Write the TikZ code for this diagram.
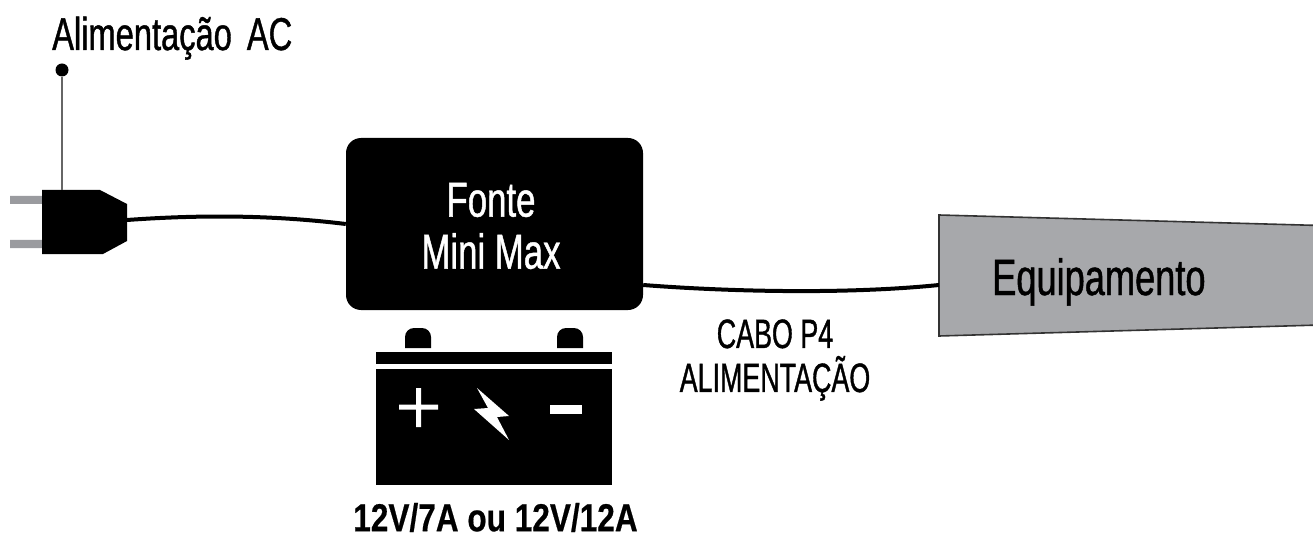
\documentclass[tikz,border=0pt]{standalone}
\usepackage{fontspec}
\setmainfont[FakeStretch=0.71,FakeBold=0.9]{Liberation Sans}
\newfontfamily\fontecabo[FakeStretch=0.655,FakeBold=0.9]{Liberation Sans}
\newfontfamily\fontecapacidade[FakeStretch=0.81,FakeBold=0.5]{Liberation Sans}
\usetikzlibrary{positioning}
\definecolor{pino}{HTML}{9A9B9F}
\definecolor{equipcinza}{HTML}{A7A8AB}
\tikzset{
    wire/.style={draw=black,line width=4pt},
    rotulo/.style={inner sep=0pt,anchor=base west},
}

\begin{document}
\begin{tikzpicture}[x=1pt,y=-1pt]
    \useasboundingbox (0,0) rectangle (1313,537);
    % plug
    \fill[pino] (10,196) rectangle (42,204) (10,240) rectangle (42,248);
    \fill (42,190) -- (100,190) -- (127,204) -- (127,241) -- (103,254) -- (42,254) -- cycle;
    \coordinate (plugtop) at (62,190);
    \coordinate (plugtip) at (127,220);
    \node[circle,fill=black,inner sep=0pt,minimum size=13pt] (dotac) at (62,70) {};
    \node[rotulo,font=\fontsize{46}{54}\selectfont] (ac) at (52,50) {Alimentação\hspace{15pt}AC};
    % power supply
    \node[fill=black,rounded corners=15pt,minimum width=297pt,minimum height=172pt,inner sep=0pt] (fonte) at (494.5,224) {};
    \node[inner sep=0pt,text=white,align=center,font=\fontsize{49}{52}\selectfont] (nomefonte) at (491,226) {Fonte\\Mini Max};
    % battery
    \fill (405,348) {[rounded corners=9pt] -- (405,328) -- (431,328)} -- (431,348) -- cycle;
    \fill (557,348) {[rounded corners=9pt] -- (557,328) -- (583,328)} -- (583,348) -- cycle;
    \fill (375.5,351.5) rectangle (611.5,363.5);
    \fill (375.5,369) rectangle (611.5,485);
    \fill[white] (399,404.5) rectangle (438,409.5) (416,388) rectangle (421,427);
    \fill[white] (550,405) rectangle (582,414);
    \fill[white] (477,388) -- (509,416) -- (497,417) -- (509,440) -- (474,409) -- (488,408) -- cycle;
    \node[inner sep=0pt,font=\fontecapacidade\bfseries\fontsize{39}{46}\selectfont] (capacidade) at (495.5,517.5) {12V/7A ou 12V/12A};
    % equipment
    \filldraw[fill=equipcinza,draw=black!80,line width=1.6pt]
        (939,215) -- (1320,225.5) -- (1320,325) -- (939,336) -- cycle;
    \coordinate (equip) at (939,285);
    \node[rotulo,font=\fontsize{51}{60}\selectfont] (nomeequip) at (992,295) {Equipamento};
    \node[inner sep=0pt,align=center,font=\fontecabo\fontsize{41}{44}\selectfont] (cabo) at (775,360) {CABO P4\\ALIMENTAÇÃO};
    % connectors
    \draw[black!60,line width=1.5pt] (dotac) -- (plugtop);
    \draw[wire] (plugtip) .. controls (210,214) and (280,216) .. (fonte.west);
    \draw[wire] (fonte.east |- equip) .. controls (720,291) and (840,295) .. (equip);
\end{tikzpicture}
\end{document}
